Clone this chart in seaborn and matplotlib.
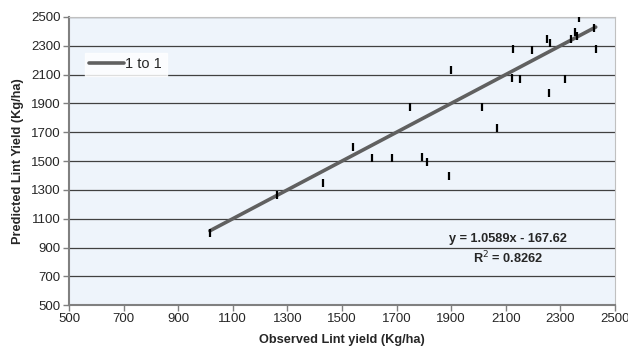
import matplotlib
matplotlib.use("Agg")
import matplotlib.pyplot as plt
import seaborn as sns
import pandas as pd

# observed vs predicted lint yield (Kg/ha)
observado = [2368, 2423, 2353, 2363, 2341, 2253, 2264, 2128, 2197, 2430,
             1899, 2125, 2153, 2317, 2259, 1750, 2015, 2068, 1540, 1610,
             1684, 1793, 1810, 1892, 1431, 1261, 1016]
previsto = [2490, 2425, 2396, 2370, 2345, 2345, 2321, 2278, 2271, 2278,
            2132, 2079, 2067, 2067, 1970, 1873, 1873, 1727, 1600, 1523,
            1523, 1530, 1491, 1396, 1349, 1264, 1000]
linha_1a1 = [1016, 2430]

dados = pd.DataFrame({'obs': observado, 'pred': previsto})
linha = pd.DataFrame({'x': linha_1a1, 'y': linha_1a1})

sns.set_style('white')
plt.rcParams['font.family'] = ['Liberation Sans', 'DejaVu Sans']

fig = plt.figure(figsize=(6.28, 3.54), dpi=100)
ax = fig.add_axes([0.110, 0.138, 0.869, 0.814])
ax.set_facecolor('#EEF4FB')

for v in range(700, 2501, 200):
    ax.axhline(v, color='#404040', lw=0.9, zorder=1)

sns.lineplot(x='x', y='y', data=linha, color='#606060', lw=2.6, label='1 to 1', ax=ax, zorder=3)
sns.scatterplot(x='obs', y='pred', data=dados, marker='|', s=32, color='black',
                linewidth=1.6, ax=ax, zorder=4)

ax.set_xlim(500, 2500)
ax.set_ylim(500, 2500)
ax.set_xticks(range(500, 2501, 200))
ax.set_yticks(range(500, 2501, 200))
ax.tick_params(labelsize=9.5, length=4, width=1, direction='out', color='#808080',
               bottom=True, left=True, pad=2)

for lado in ['top', 'right']:
    ax.spines[lado].set_color('#C0C0C0')
    ax.spines[lado].set_linewidth(0.8)
for lado in ['left', 'bottom']:
    ax.spines[lado].set_color('#808080')
    ax.spines[lado].set_linewidth(1.5)

ax.set_xlabel('Observed Lint yield (Kg/ha)', fontsize=9.2, fontweight='bold', labelpad=6)
ax.set_ylabel('Predicted Lint Yield (Kg/ha)', fontsize=9.2, fontweight='bold', labelpad=5)

ax.text(2108, 958, 'y = 1.0589x - 167.62', ha='center', va='center', fontsize=9.2, fontweight='bold')
ax.text(2108, 826, 'R$^{2}$ = 0.8262', ha='center', va='center', fontsize=9.2, fontweight='bold')

leg = ax.legend(loc='upper left', bbox_to_anchor=(0.015, 0.9), frameon=True, fontsize=10.5,
                handlelength=2.4, borderpad=0.3, handletextpad=0.1)
leg.get_frame().set_facecolor('white')
leg.get_frame().set_edgecolor('white')
leg.get_frame().set_boxstyle('square', pad=0)

fig.savefig('out.png', dpi=100)
